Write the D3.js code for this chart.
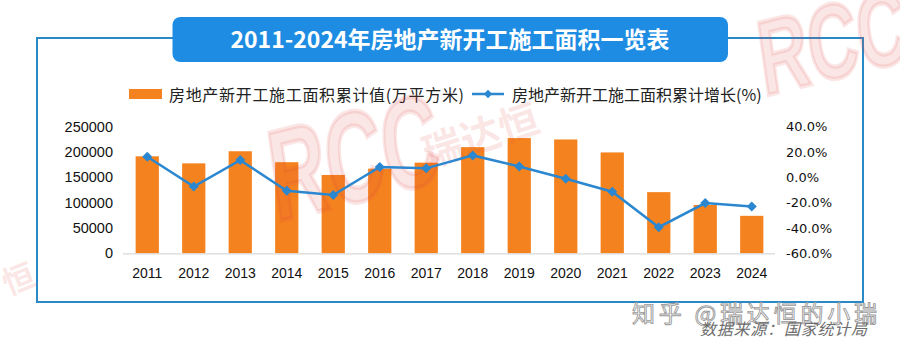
<!DOCTYPE html>
<html><head><meta charset="utf-8">
<script src="https://cdn.jsdelivr.net/npm/d3@7"></script>
<style>html,body{margin:0;padding:0;background:#fff;}svg{display:block;}</style>
</head><body><svg id="c" width="900" height="349"></svg>
<script>
const years = ["2011","2012","2013","2014","2015","2016","2017","2018","2019","2020","2021","2022","2023","2024"];
const areaValues = [191237,177334,201208,179592,154454,166928,178654,209342,227154,224433,198895,120587,95376,73893];
const growthValues = [16.2,-7.3,13.5,-10.7,-14.0,8.1,7.0,17.2,8.5,-1.2,-11.4,-39.4,-20.4,-23.0];
const leftTicks = [0,50000,100000,150000,200000,250000];
const rightTicks = [-60,-40,-20,0,20,40];
const titleText = "2011-2024年房地产新开工施工面积一览表";
const legendBar = "房地产新开工施工面积累计值(万平方米)";
const legendLine = "房地产新开工施工面积累计增长(%)";

const svg = d3.select("#c");
const cjk = "'Noto Sans CJK SC','Noto Sans',sans-serif";
const orange = "#f4831f", blue = "#2b87cf";

// frame
svg.append("rect").attr("x",37).attr("y",38).attr("width",826).attr("height",264)
  .attr("fill","none").attr("stroke","#2a8ac8").attr("stroke-width",2);

// title box
svg.append("rect").attr("x",172.5).attr("y",17).attr("width",555.5).attr("height",45).attr("rx",8)
  .attr("fill","#1e8ce2");
svg.append("text").attr("x",450).attr("y",48).attr("text-anchor","middle")
  .attr("fill","#fff").attr("font-family",cjk).attr("font-weight","bold").attr("font-size",23)
  .text(titleText);

// legend
svg.append("rect").attr("x",129).attr("y",89).attr("width",33).attr("height",10).attr("fill",orange);
svg.append("text").attr("x",169).attr("y",100.5).attr("font-family",cjk).attr("font-size",16)
  .attr("fill","#222").attr("textLength",295).text(legendBar);
svg.append("line").attr("x1",472).attr("x2",504).attr("y1",94).attr("y2",94).attr("stroke",blue).attr("stroke-width",2.5);
svg.append("path").attr("d",d3.symbol(d3.symbolSquare,36)()).attr("transform","translate(488,94) rotate(45)").attr("fill",blue);
svg.append("text").attr("x",512).attr("y",100.5).attr("font-family",cjk).attr("font-size",16)
  .attr("fill","#222").text(legendLine);

// scales
const x = d3.scaleBand().domain(years).range([124,775]).paddingInner(0.5).paddingOuter(0.25);
const yL = d3.scaleLinear().domain([0,250000]).range([253.3,126.5]);
const yR = d3.scaleLinear().domain([-60,40]).range([253.3,126.5]);

// bars
svg.append("g").selectAll("rect").data(years).join("rect")
  .attr("x",d=>x(d)).attr("width",x.bandwidth())
  .attr("y",(d,i)=>yL(areaValues[i])).attr("height",(d,i)=>yL(0)-yL(areaValues[i]))
  .attr("fill",orange);

// x axis
const gx = svg.append("g").attr("transform","translate(0,253.3)")
  .call(d3.axisBottom(x).tickSize(0).tickPadding(15));
gx.select(".domain").attr("stroke","#d9d9d9").attr("stroke-width",1.2).attr("d","M123,0.5H775");
gx.selectAll("text").attr("font-family","'Liberation Sans',Arial,sans-serif").attr("font-size",14).attr("fill","#111");

// left axis
const gl = svg.append("g").attr("transform","translate(113,0)")
  .call(d3.axisLeft(yL).tickValues(leftTicks).tickSize(0).tickPadding(0).tickFormat(d3.format("d")));
gl.select(".domain").remove();
gl.selectAll("text").attr("font-family","'Liberation Sans',Arial,sans-serif").attr("font-size",14.5).attr("fill","#111");

// right axis
const gr = svg.append("g").attr("transform","translate(786,0)")
  .call(d3.axisRight(yR).tickValues(rightTicks).tickSize(0).tickPadding(0).tickFormat(d=>d.toFixed(1)+"%"));
gr.select(".domain").remove();
gr.selectAll("text").attr("font-family","'DejaVu Sans',sans-serif").attr("font-size",13).attr("fill","#111");

// watermarks (over bars, under line)
const wm = svg.append("g").attr("fill","rgb(225,60,60)").attr("fill-opacity",0.13)
  .attr("font-family","'Liberation Sans Narrow','Liberation Sans',Arial,sans-serif").attr("font-weight","bold");
wm.append("text").attr("transform","translate(276,222) rotate(-14) skewX(-6) scale(1,1.6)")
  .attr("font-size",80).attr("stroke","rgb(225,60,60)").attr("stroke-opacity",0.13).attr("stroke-width",3).text("RCC");
wm.append("text").attr("transform","translate(428,168) rotate(-18)")
  .attr("font-family",cjk).attr("font-size",40).text("瑞达恒");
wm.append("text").attr("transform","translate(764,96) rotate(-14) skewX(-6) scale(1,1.5)")
  .attr("font-size",70).attr("stroke","rgb(225,60,60)").attr("stroke-opacity",0.13).attr("stroke-width",3).text("RCC");
wm.append("text").attr("transform","translate(8,296) rotate(-22)")
  .attr("font-family",cjk).attr("font-size",32).text("恒");

// line
const cx = d => x(d)+x.bandwidth()/2;
svg.append("path").datum(years)
  .attr("d",d3.line().x(d=>cx(d)).y((d,i)=>yR(growthValues[i])))
  .attr("fill","none").attr("stroke",blue).attr("stroke-width",2.5);
svg.append("g").selectAll("path").data(years).join("path")
  .attr("d",d3.symbol(d3.symbolSquare,50)())
  .attr("transform",(d,i)=>`translate(${cx(d)},${yR(growthValues[i])}) rotate(45)`)
  .attr("fill",blue);

// bottom right credits
svg.append("text").attr("x",632).attr("y",322).attr("font-family",cjk).attr("font-size",23)
  .attr("fill","#fff").attr("stroke","#9a9a9a").attr("stroke-width",0.9).attr("textLength",245)
  .text("知乎 @瑞达恒的小瑞");
svg.append("text").attr("x",700).attr("y",335).attr("font-family",cjk).attr("font-size",16)
  .attr("font-style","italic").attr("fill","#6d6d6d").attr("textLength",167).text("数据来源：国家统计局");
</script></body></html>
